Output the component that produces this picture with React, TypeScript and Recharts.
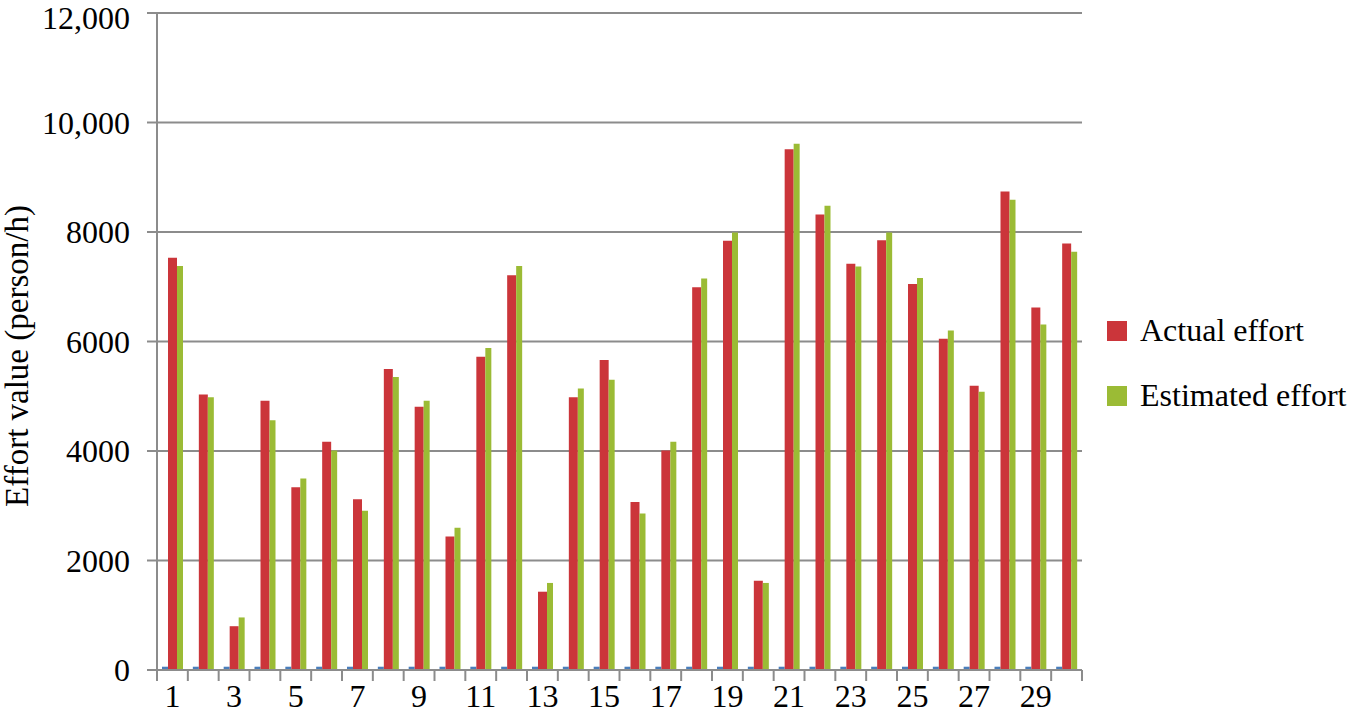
import React from 'react';
import { BarChart, Bar, XAxis, YAxis, CartesianGrid } from 'recharts';

const categories = ['1','2','3','4','5','6','7','8','9','10','11','12','13','14','15','16','17','18','19','20','21','22','23','24','25','26','27','28','29','30'];
const baseSeries = [60,60,60,60,60,60,60,60,60,60,60,60,60,60,60,60,60,60,60,60,60,60,60,60,60,60,60,60,60,60];
const actualEffort = [7530,5030,800,4920,3340,4170,3120,5500,4810,2440,5720,7210,1430,4980,5660,3070,4010,6990,7840,1630,9510,8320,7420,7850,7050,6050,5190,8740,6620,7790];
const estimatedEffort = [7380,4980,960,4560,3500,4010,2910,5350,4920,2600,5880,7380,1590,5140,5300,2860,4170,7150,7990,1590,9610,8480,7370,7990,7160,6200,5080,8590,6310,7640];
const yTicks = [0,2000,4000,6000,8000,10000,12000];
const legendItems = [
  { name: 'Actual effort', color: '#CB353A' },
  { name: 'Estimated effort', color: '#9BBB35' },
];

const data = categories.map((c, i) => ({
  cat: c,
  base: baseSeries[i],
  actual: actualEffort[i],
  estimated: estimatedEffort[i],
}));

const FONT = '"Liberation Serif", "Times New Roman", serif';
const AXIS = '#8c8c8c';
const PLOT_LEFT = 157;
const PLOT_RIGHT = 1082;
const PLOT_TOP = 13;
const PLOT_BOTTOM = 670;
const BAND = (PLOT_RIGHT - PLOT_LEFT) / categories.length;

const XTick = (props: any) => {
  const { x, y, payload, index } = props;
  const left = x - BAND / 2;
  const right = x + BAND / 2;
  const last = index === categories.length - 1;
  return (
    <g>
      <line x1={left} x2={left} y1={y} y2={y + 11} stroke={AXIS} strokeWidth={2} />
      {last && <line x1={right} x2={right} y1={y} y2={y + 11} stroke={AXIS} strokeWidth={2} />}
      {index % 2 === 0 && (
        <text x={x} y={y + 37} textAnchor="middle" fontFamily={FONT} fontSize={32} fill="#000">
          {payload.value}
        </text>
      )}
    </g>
  );
};

const fmt = (v: number) => (v >= 10000 ? v.toLocaleString('en-US') : String(v));

const YTick = (props: any) => {
  const { x, y, payload } = props;
  const shift = payload.value === 12000 ? 5 : 0;
  return (
    <text
      x={x}
      y={y + shift}
      textAnchor="end"
      dominantBaseline="central"
      fontFamily={FONT}
      fontSize={32}
      fill="#000"
    >
      {fmt(payload.value)}
    </text>
  );
};

const YLabel = () => {
  const cx = 17;
  const cy = 356;
  return (
    <text
      x={cx}
      y={cy}
      transform={`rotate(-90, ${cx}, ${cy})`}
      textAnchor="middle"
      dominantBaseline="central"
      fontFamily={FONT}
      fontSize={33}
      fill="#000"
    >
      Effort value (person/h)
    </text>
  );
};

export default function App() {
  return (
    <div style={{ position: 'absolute', left: 0, top: 0, width: 1356, height: 726, background: '#fff' }}>
      <BarChart
        width={1356}
        height={726}
        data={data}
        margin={{ top: PLOT_TOP, right: 1356 - PLOT_RIGHT, bottom: 0, left: 0 }}
        barGap={0}
      >
        <CartesianGrid horizontal vertical={false} stroke={AXIS} strokeWidth={2} />
        <XAxis
          dataKey="cat"
          interval={0}
          height={726 - PLOT_BOTTOM}
          tickLine={false}
          tickSize={0}
          tickMargin={0}
          axisLine={{ stroke: AXIS, strokeWidth: 2 }}
          tick={<XTick />}
        />
        <YAxis
          width={PLOT_LEFT}
          domain={[0, 12000]}
          ticks={yTicks}
          interval={0}
          tickSize={10}
          tickMargin={17}
          tickLine={{ stroke: AXIS, strokeWidth: 2 }}
          axisLine={{ stroke: AXIS, strokeWidth: 2 }}
          tick={<YTick />}
          label={<YLabel />}
        />
        <Bar dataKey="base" fill="#4A7EBB" barSize={6} isAnimationActive={false} />
        <Bar dataKey="actual" name="Actual effort" fill="#CB353A" barSize={9} isAnimationActive={false} />
        <Bar dataKey="estimated" name="Estimated effort" fill="#9BBB35" barSize={6} isAnimationActive={false} />
      </BarChart>
      <div style={{ position: 'absolute', left: 1107, top: 298, width: 250, fontFamily: FONT, fontSize: 32, color: '#000' }}>
        {legendItems.map((it) => (
          <div key={it.name} style={{ display: 'flex', alignItems: 'center', height: 65 }}>
            <span style={{ display: 'inline-block', width: 20, height: 20, background: it.color, marginRight: 13 }} />
            <span style={{ whiteSpace: 'nowrap' }}>{it.name}</span>
          </div>
        ))}
      </div>
    </div>
  );
}
